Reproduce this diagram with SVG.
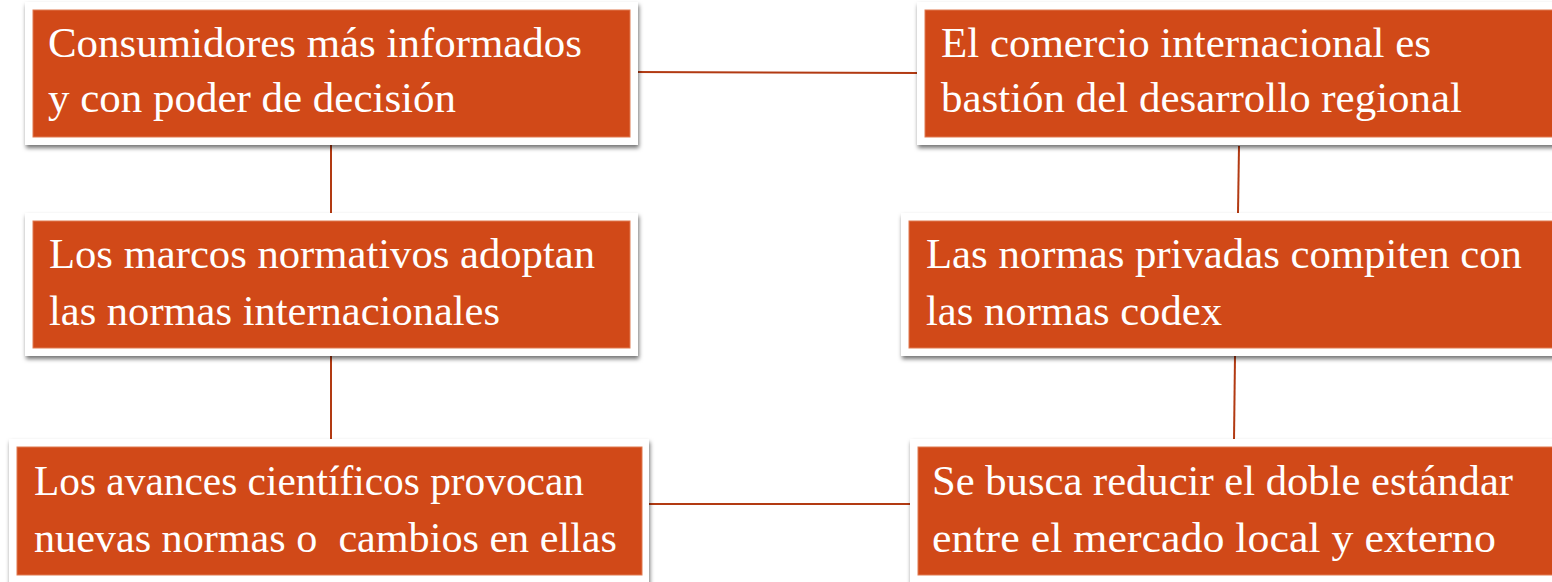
<svg xmlns="http://www.w3.org/2000/svg" width="1552" height="582" viewBox="0 0 1552 582">
  <defs>
    <filter id="shadow" x="-5%" y="-10%" width="110%" height="130%">
      <feDropShadow dx="1" dy="3" stdDeviation="2" flood-color="#000" flood-opacity="0.55"/>
    </filter>
  </defs>
  <style>
    .frame { fill: #ffffff; filter: url(#shadow); }
    .fill { fill: #D14918; stroke: #E07A50; stroke-width: 1; }
    .label { font-family: "Liberation Serif", "Times New Roman", serif; font-size: 43px; fill: #ffffff; }
    .conn { stroke: #B23A12; stroke-width: 2; fill: none; }
  </style>
  <rect width="1552" height="582" fill="#ffffff"/>

  <g id="connectors">
    <line class="conn" x1="633" y1="72" x2="921" y2="73"/>
    <line class="conn" x1="331" y1="145" x2="331" y2="213"/>
    <line class="conn" x1="331" y1="356" x2="331" y2="440"/>
    <line class="conn" x1="1239" y1="146" x2="1238" y2="213"/>
    <line class="conn" x1="1235" y1="356" x2="1234" y2="440"/>
    <line class="conn" x1="648" y1="504" x2="910" y2="504"/>
  </g>

  <g id="node-consumidores">
    <rect class="frame" x="25" y="2" width="613" height="143"/>
    <rect class="fill" x="33" y="10" width="597" height="127"/>
    <text class="label" x="48" y="57" textLength="534" lengthAdjust="spacingAndGlyphs">Consumidores más informados</text>
    <text class="label" x="48" y="112" textLength="408" lengthAdjust="spacingAndGlyphs">y con poder de decisión</text>
  </g>

  <g id="node-comercio">
    <rect class="frame" x="917" y="2" width="650" height="143"/>
    <rect class="fill" x="925" y="10" width="640" height="127"/>
    <text class="label" x="941" y="57" textLength="490" lengthAdjust="spacingAndGlyphs">El comercio internacional es</text>
    <text class="label" x="941" y="112" textLength="521" lengthAdjust="spacingAndGlyphs">bastión del desarrollo regional</text>
  </g>

  <g id="node-marcos">
    <rect class="frame" x="25" y="213" width="613" height="143"/>
    <rect class="fill" x="33" y="221" width="597" height="127"/>
    <text class="label" x="49" y="268" textLength="546" lengthAdjust="spacingAndGlyphs">Los marcos normativos adoptan</text>
    <text class="label" x="49" y="325" textLength="451" lengthAdjust="spacingAndGlyphs">las normas internacionales</text>
  </g>

  <g id="node-privadas">
    <rect class="frame" x="901" y="213" width="670" height="143"/>
    <rect class="fill" x="909" y="221" width="660" height="127"/>
    <text class="label" x="926" y="268" textLength="596" lengthAdjust="spacingAndGlyphs">Las normas privadas compiten con</text>
    <text class="label" x="926" y="325" textLength="296" lengthAdjust="spacingAndGlyphs">las normas codex</text>
  </g>

  <g id="node-avances">
    <rect class="frame" x="9" y="439" width="640" height="150"/>
    <rect class="fill" x="17" y="447" width="625" height="128"/>
    <text class="label" x="34" y="495" textLength="550" lengthAdjust="spacingAndGlyphs">Los avances científicos provocan</text>
    <text class="label" x="34" y="552" textLength="583" lengthAdjust="spacingAndGlyphs" xml:space="preserve">nuevas normas o  cambios en ellas</text>
  </g>

  <g id="node-estandar">
    <rect class="frame" x="910" y="439" width="660" height="150"/>
    <rect class="fill" x="918" y="447" width="650" height="128"/>
    <text class="label" x="932" y="495" textLength="581" lengthAdjust="spacingAndGlyphs">Se busca reducir el doble estándar</text>
    <text class="label" x="932" y="552" textLength="564" lengthAdjust="spacingAndGlyphs">entre el mercado local y externo</text>
  </g>
</svg>
